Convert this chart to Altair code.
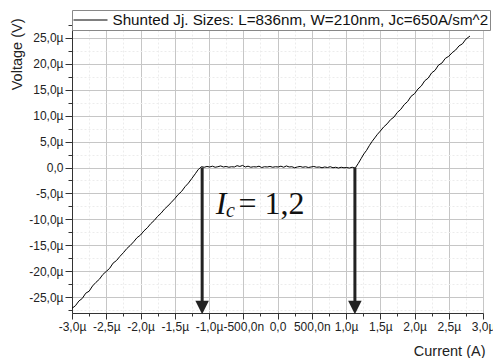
import altair as alt
import pandas as pd

legend_label = "Shunted Jj. Sizes: L=836nm, W=210nm, Jc=650A/sm^2"

# Current in µA, voltage in µV
left_current = [-3.00, -2.95, -2.90, -2.85, -2.80, -2.75, -2.70, -2.65, -2.60, -2.55,
                -2.50, -2.45, -2.40, -2.35, -2.30, -2.25, -2.20, -2.15, -2.10, -2.05,
                -2.00, -1.95, -1.90, -1.85, -1.80, -1.75, -1.70, -1.65, -1.60, -1.55,
                -1.50, -1.45, -1.40, -1.35, -1.30, -1.25, -1.20, -1.16, -1.13]
left_voltage = [-27.1, -26.6, -25.7, -25.2, -24.2, -23.8, -22.8, -22.1, -21.5, -20.6,
                -20.0, -19.4, -18.4, -17.9, -17.1, -16.4, -15.6, -15.0, -14.3, -13.5,
                -13.0, -12.2, -11.6, -10.8, -10.2, -9.4, -8.8, -8.0, -7.4, -6.7,
                -6.0, -5.2, -4.6, -3.7, -3.0, -2.1, -1.2, -0.45, -0.05]

flat_current = [-1.11, -1.07, -1.03, -0.99, -0.95, -0.91, -0.87, -0.83, -0.79, -0.75,
                -0.71, -0.67, -0.63, -0.59, -0.55, -0.51, -0.47, -0.43, -0.39, -0.35,
                -0.31, -0.27, -0.23, -0.19, -0.15, -0.11, -0.07, -0.03, 0.01, 0.05,
                0.09, 0.13, 0.17, 0.21, 0.25, 0.29, 0.33, 0.37, 0.41, 0.45,
                0.49, 0.53, 0.57, 0.61, 0.65, 0.69, 0.73, 0.77, 0.81, 0.85,
                0.89, 0.93, 0.97, 1.01, 1.05, 1.09, 1.13]
flat_voltage = [0.15, 0.05, 0.2, 0.1, 0.25, 0.05, 0.15, 0.3, 0.1, 0.2,
                0.05, 0.15, 0.1, 0.35, 0.2, 0.4, 0.1, 0.25, 0.05, 0.15,
                0.1, 0.25, 0.0, 0.15, 0.1, 0.2, 0.05, 0.15, 0.1, 0.25,
                0.05, 0.3, 0.1, 0.15, -0.05, 0.1, 0.2, 0.05, 0.15, 0.0,
                0.1, 0.2, 0.05, 0.1, -0.05, 0.1, 0.0, 0.15, -0.05, 0.05,
                -0.1, 0.05, -0.05, 0.0, -0.1, 0.05, -0.1]

right_current = [1.14, 1.18, 1.22, 1.26, 1.30, 1.34, 1.38, 1.42, 1.46, 1.50,
                 1.55, 1.60, 1.65, 1.70, 1.75, 1.80, 1.85, 1.90, 1.95, 2.00,
                 2.05, 2.10, 2.15, 2.20, 2.25, 2.30, 2.35, 2.40, 2.45, 2.50,
                 2.55, 2.60, 2.65, 2.70, 2.75, 2.81]
right_voltage = [0.0, 0.8, 1.7, 2.6, 3.3, 4.2, 5.0, 5.7, 6.4, 7.0,
                 7.8, 8.4, 9.2, 9.7, 10.6, 11.2, 12.1, 12.7, 13.7, 14.2,
                 15.1, 15.7, 16.7, 17.2, 18.2, 18.7, 19.7, 20.1, 21.0, 21.4,
                 22.1, 22.6, 23.4, 23.8, 24.7, 25.3]

# Tick values / labels
x_tick_values = [-3.0, -2.75, -2.5, -2.25, -2.0, -1.75, -1.5, -1.25, -1.0, -0.75, -0.5, -0.25,
                 0.0, 0.25, 0.5, 0.75, 1.0, 1.25, 1.5, 1.75, 2.0, 2.25, 2.5, 2.75, 3.0]
x_major_values = [-3.0, -2.5, -2.0, -1.5, -1.0, -0.5, 0.0, 0.5, 1.0, 1.5, 2.0, 2.5, 3.0]
x_major_labels = ["-3,0µ", "-2,5µ", "-2,0µ", "-1,5µ", "-1,0µ", "-500,0n", "0,0",
                  "500,0n", "1,0µ", "1,5µ", "2,0µ", "2,5µ", "3,0µ"]
y_tick_values = [-27.5, -25, -22.5, -20, -17.5, -15, -12.5, -10, -7.5, -5, -2.5, 0,
                 2.5, 5, 7.5, 10, 12.5, 15, 17.5, 20, 22.5, 25, 27.5]
y_major_values = [-25, -20, -15, -10, -5, 0, 5, 10, 15, 20, 25]
y_major_labels = ["-25,0µ", "-20,0µ", "-15,0µ", "-10,0µ", "-5,0µ", "0,0",
                  "5,0µ", "10,0µ", "15,0µ", "20,0µ", "25,0µ"]

# Annotation data
arrow_current = [-1.10, 1.13]
arrow_top = [0.0, 0.0]
arrow_bottom = [-26.0, -26.0]
arrow_head = [-26.94, -26.94]

label_parts = ["I", "c", "= 1,2"]
label_current = [-0.90, -0.752, -0.57]
label_voltage = [-8.95, -9.53, -8.95]


def label_expr(values, labels):
    parts = [f"abs(datum.value - ({v})) < 1e-6 ? '{l}'" for v, l in zip(values, labels)]
    return " : ".join(parts) + " : ''"


def major_test(step):
    return f"abs(datum.value / {step} - round(datum.value / {step})) < 1e-6"


current = left_current + flat_current + right_current
voltage = left_voltage + flat_voltage + right_voltage
df = pd.DataFrame({"I": current, "V": voltage, "order": list(range(len(current))),
                   "series": [legend_label] * len(current)})
arrows = pd.DataFrame({"I": arrow_current, "top": arrow_top, "bottom": arrow_bottom, "head": arrow_head})
labels = pd.DataFrame({"I": label_current, "V": label_voltage, "t": label_parts})

x_scale = alt.Scale(domain=[-3, 3], nice=False, zero=False)
y_scale = alt.Scale(domain=[-28, 28], nice=False, zero=False)

grid_major = "#c6c6c6"
grid_minor = "#ececec"

x_axis = alt.Axis(
    values=x_tick_values,
    labelExpr=label_expr(x_major_values, x_major_labels),
    title="Current (A)", titleX=413, titleY=38, titleAlign="right", titleBaseline="middle",
    titleFont="Liberation Sans", titleFontSize=14.5, titleFontWeight="normal", titleColor="#222",
    labelFont="Liberation Sans", labelFontSize=12, labelColor="#222", labelPadding=2,
    labelOverlap=False, labelFlush=False, labelBound=False,
    tickSize={"condition": {"test": major_test(0.5), "value": 6}, "value": 3},
    tickColor="#333", domainColor="#333",
    gridColor={"condition": {"test": major_test(0.5), "value": grid_major}, "value": grid_minor},
    gridDash={"condition": {"test": major_test(0.5), "value": []}, "value": [2, 2]},
)
y_axis = alt.Axis(
    values=y_tick_values,
    labelExpr=label_expr(y_major_values, y_major_labels),
    title="Voltage (V)", titleX=-55, titleY=-4, titleAlign="right", titleBaseline="middle",
    titleAngle=270,
    titleFont="Liberation Sans", titleFontSize=14.5, titleFontWeight="normal", titleColor="#222",
    labelFont="Liberation Sans", labelFontSize=12, labelColor="#222", labelPadding=2,
    labelOverlap=False, labelFlush=False, labelBound=False,
    tickSize={"condition": {"test": major_test(5), "value": 7}, "value": 4},
    tickColor="#333", domainColor="#333",
    gridColor={"condition": {"test": major_test(5), "value": grid_major}, "value": grid_minor},
    gridDash={"condition": {"test": major_test(5), "value": []}, "value": [2, 2]},
)


def xe(field):
    return alt.X(field, type="quantitative", scale=x_scale, axis=x_axis)


def ye(field):
    return alt.Y(field, type="quantitative", scale=y_scale, axis=y_axis)


line = alt.Chart(df).mark_line(strokeWidth=1, interpolate="linear").encode(
    x=xe("I"), y=ye("V"),
    order="order:Q",
    color=alt.Color("series:N", scale=alt.Scale(range=["black"]),
                    legend=alt.Legend(title=None, orient="none", legendX=0, legendY=-12,
                                      symbolType="M-2,0L2,0", symbolSize=289, symbolStrokeWidth=1,
                                      symbolStrokeColor="black", symbolOffset=8.5,
                                      labelFont="Liberation Sans", labelFontSize=15.2,
                                      labelColor="#111", labelLimit=0, labelOffset=13,
                                      strokeColor="#888", fillColor="white", padding=1)),
)

rules = alt.Chart(arrows).mark_rule(strokeWidth=3, color="#222").encode(
    x=xe("I"), y=ye("top"), y2="bottom:Q")
heads = alt.Chart(arrows).mark_point(shape="M-1,-1L1,-1L0,1Z", filled=True, size=182,
                                     color="#222", opacity=1).encode(
    x=xe("I"), y=ye("head"))

text_I = alt.Chart(labels[labels.t == "I"]).mark_text(
    font="Liberation Serif", fontStyle="italic", fontSize=32, align="left",
    baseline="alphabetic", color="#111").encode(x=xe("I"), y=ye("V"), text="t:N")
text_c = alt.Chart(labels[labels.t == "c"]).mark_text(
    font="Liberation Serif", fontStyle="italic", fontSize=20, align="left",
    baseline="alphabetic", color="#111").encode(x=xe("I"), y=ye("V"), text="t:N")
text_eq = alt.Chart(labels[labels.t == "= 1,2"]).mark_text(
    font="Liberation Serif", fontSize=32, align="left",
    baseline="alphabetic", color="#111").encode(x=xe("I"), y=ye("V"), text="t:N")

chart = alt.layer(line, rules, heads, text_I, text_c, text_eq).properties(
    width=411, height=291, autosize="none",
    padding={"left": 72, "top": 22, "right": 10, "bottom": 45},
).configure_view(stroke=None).configure(background="white")

chart.save("out.html", embed_options={"renderer": "svg", "actions": False})
